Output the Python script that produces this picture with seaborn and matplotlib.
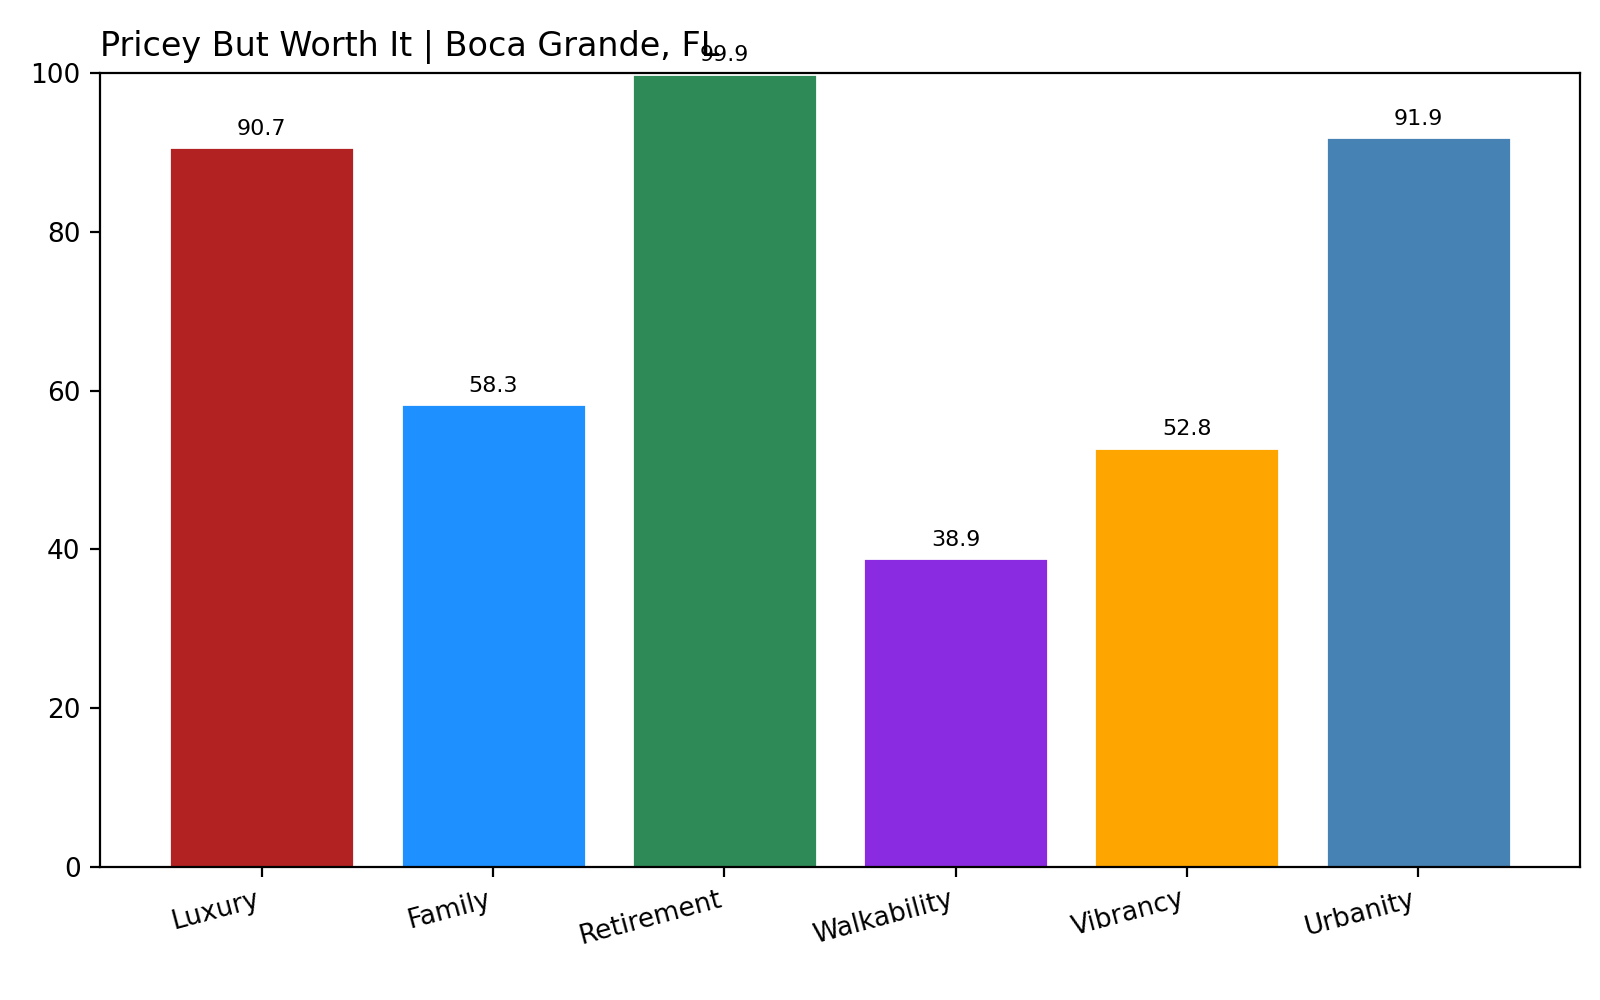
import matplotlib
matplotlib.use("Agg")
import matplotlib.pyplot as plt
import seaborn as sns
import pandas as pd

categories = ["Luxury", "Family", "Retirement", "Walkability", "Vibrancy", "Urbanity"]
values = [90.7, 58.3, 99.9, 38.9, 52.8, 91.9]
colors = ["#b22222", "#1e90ff", "#2e8b57", "#8a2be2", "#ffa500", "#4682b4"]

sns.set_style("ticks")
plt.rcParams['font.family'] = ['DejaVu Sans']
plt.rcParams['text.color'] = 'black'
plt.rcParams['xtick.color'] = 'black'
plt.rcParams['ytick.color'] = 'black'
plt.rcParams['axes.edgecolor'] = 'black'
fig = plt.figure(figsize=(8, 5), dpi=200)
ax = fig.add_axes([0.0625, 0.133, 0.925, 0.794])
df = pd.DataFrame({"cat": categories, "val": values})
sns.barplot(data=df, x="cat", y="val", hue="cat", palette=colors, legend=False,
            width=0.8, saturation=1, ax=ax)
for p, v in zip(ax.patches, values):
    ax.annotate(f"{v:.1f}", (p.get_x() + p.get_width() / 2, v), xytext=(0, 3),
                textcoords="offset points", ha="center", va="bottom", fontsize=8)
ax.set_ylim(0, 100)
ax.set_xlim(-0.7, 5.7)
ax.set_xlabel("")
ax.set_ylabel("")
for s in ax.spines.values():
    s.set_visible(True)
    s.set_linewidth(0.8)
ax.tick_params(labelsize=9.5)
plt.setp(ax.get_xticklabels(), rotation=15, ha="right")
ax.set_title("Pricey But Worth It | Boca Grande, FL", loc="left", fontsize=12, color="black")
fig.savefig("out.png")
